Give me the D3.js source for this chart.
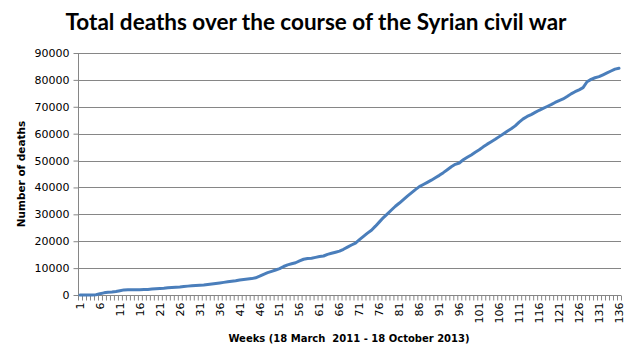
<!DOCTYPE html>
<html>
<head>
<meta charset="utf-8">
<script src="https://cdn.jsdelivr.net/npm/d3@7"></script>
<style>
  html, body { margin: 0; padding: 0; background: #fff; }
  svg { display: block; }
</style>
</head>
<body>
<svg id="chart" width="632" height="358"></svg>
<script>
const titleText = "Total deaths over the course of the Syrian civil war";
const yAxisTitle = "Number of deaths";
const xAxisTitle = "Weeks (18 March  2011 - 18 October 2013)";
const weeks = d3.range(1, 137);
const deaths = [
  0, 0, 0, 0, 100, 500, 800, 1000, 1100, 1300,
  1600, 1900, 1950, 1950, 1950, 1950, 2000, 2050, 2200, 2350,
  2450, 2550, 2700, 2800, 2900, 3000, 3150, 3300, 3400, 3500,
  3600, 3700, 3900, 4100, 4300, 4500, 4700, 4900, 5100, 5300,
  5600, 5800, 5950, 6100, 6400, 7000, 7700, 8300, 8800, 9300,
  9800, 10600, 11200, 11600, 12000, 12700, 13300, 13600, 13700, 14000,
  14300, 14500, 15100, 15500, 15900, 16300, 17000, 17800, 18600, 19300,
  20600, 21800, 23000, 24100, 25600, 27200, 28800, 30200, 31600, 33000,
  34200, 35500, 36800, 38000, 39200, 40300, 41100, 41900, 42700, 43600,
  44500, 45500, 46600, 47700, 48600, 49100, 50300, 51200, 52100, 53100,
  54000, 55100, 56100, 57000, 57900, 58900, 59900, 60900, 61800, 62900,
  64300, 65500, 66400, 67100, 67900, 68700, 69400, 70100, 70800, 71600,
  72300, 72900, 73800, 74800, 75600, 76300, 77100, 79300, 80200, 80800,
  81200, 81900, 82600, 83300, 84000, 84300
];
const yTicks = [0, 10000, 20000, 30000, 40000, 50000, 60000, 70000, 80000, 90000];
const xLabelWeeks = weeks.filter(w => (w - 1) % 5 === 0);

const svg = d3.select("#chart");
const pLeft = 78, pRight = 621, pTop = 53, pBottom = 295;
const axisColor = "#868686";
const tickFont = "'DejaVu Sans', Verdana, sans-serif";

const x = d3.scaleBand().domain(weeks).range([pLeft, pRight]).padding(0);
const xEdge = d3.scaleLinear().domain([0, weeks.length]).range([pLeft, pRight]);
const y = d3.scaleLinear().domain([0, 90000]).range([pBottom, pTop]);

// gridlines
svg.append("g")
  .selectAll("line").data(yTicks.filter(d => d > 0)).join("line")
  .attr("x1", pLeft).attr("x2", pRight)
  .attr("y1", d => Math.round(y(d)) + 0.5).attr("y2", d => Math.round(y(d)) + 0.5)
  .attr("stroke", axisColor).attr("stroke-width", 1);

// y axis
const yAxis = svg.append("g").attr("transform", `translate(${pLeft + 0.5},0)`)
  .call(d3.axisLeft(y).tickValues(yTicks).tickSize(5).tickPadding(4).tickFormat(d3.format("d")));
yAxis.select(".domain").attr("stroke", axisColor).attr("d", `M0,${pTop}V${pBottom + 0.5}`);
yAxis.selectAll(".tick line").attr("stroke", axisColor);
yAxis.selectAll(".tick text").attr("font-family", tickFont).attr("font-size", 11).attr("fill", "#000");

// x axis minor ticks at band boundaries
const xTickAxis = svg.append("g").attr("transform", `translate(0,${pBottom + 0.5})`)
  .call(d3.axisBottom(xEdge).tickValues(d3.range(0, weeks.length + 1)).tickSize(5).tickFormat(""));
xTickAxis.select(".domain").attr("stroke", axisColor).attr("d", `M${pLeft},0H${pRight}`);
xTickAxis.selectAll(".tick line").attr("stroke", axisColor);

// x labels
const xLabAxis = svg.append("g").attr("transform", `translate(0,${pBottom + 0.5})`)
  .call(d3.axisBottom(x).tickValues(xLabelWeeks).tickSize(0).tickPadding(0));
xLabAxis.select(".domain").remove();
xLabAxis.selectAll(".tick text")
  .attr("font-family", tickFont).attr("font-size", 11).attr("fill", "#000")
  .attr("transform", "rotate(-90)")
  .attr("text-anchor", "end")
  .attr("x", -7).attr("y", 0).attr("dy", "0.35em");

// line
const line = d3.line().x((d, i) => x(weeks[i]) + x.bandwidth() / 2).y(d => y(d));
svg.append("path").datum(deaths)
  .attr("fill", "none").attr("stroke", "#4a7ebb").attr("stroke-width", 3)
  .attr("stroke-linejoin", "round").attr("stroke-linecap", "round")
  .attr("d", line);

// titles
svg.append("text").attr("x", 316).attr("y", 30).attr("text-anchor", "middle")
  .attr("font-family", "Lato, 'Open Sans', sans-serif").attr("font-weight", "bold").attr("font-size", 22.5)
  .attr("fill", "#000").text(titleText);

svg.append("text").attr("transform", `translate(25,${(pTop + pBottom) / 2}) rotate(-90)`)
  .attr("text-anchor", "middle")
  .attr("font-family", tickFont).attr("font-weight", "bold").attr("font-size", 10.5)
  .attr("fill", "#000").text(yAxisTitle);

svg.append("text").attr("x", 349).attr("y", 342).attr("text-anchor", "middle")
  .attr("font-family", tickFont).attr("font-weight", "bold").attr("font-size", 10)
  .style("white-space", "pre")
  .attr("fill", "#000").text(xAxisTitle);
</script>
</body>
</html>
